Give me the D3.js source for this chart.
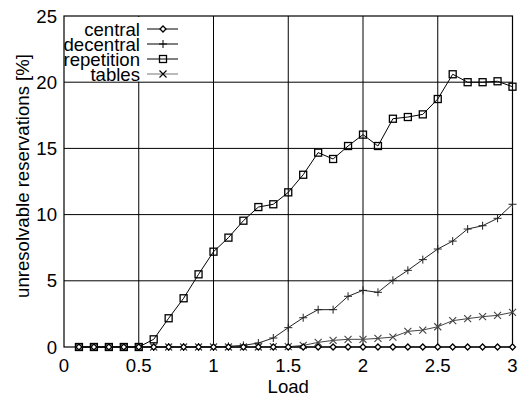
<!DOCTYPE html>
<html>
<head>
<meta charset="utf-8">
<script src="https://cdn.jsdelivr.net/npm/d3@7"></script>
<style>
  body { margin: 0; background: #fff; }
  text { font-family: "Liberation Sans", Arial, sans-serif; }
</style>
</head>
<body>
<div id="chart"></div>
<script>
// load values 0.1 .. 3.0
var loads = [0.1,0.2,0.3,0.4,0.5,0.6,0.7,0.8,0.9,1.0,1.1,1.2,1.3,1.4,1.5,1.6,1.7,1.8,1.9,2.0,2.1,2.2,2.3,2.4,2.5,2.6,2.7,2.8,2.9,3.0];

var central = [0,0,0,0,0,0,0,0,0,0,0,0,0,0,0,0,0,0,0,0,0,0,0,0,0,0,0,0,0,0];
var decentral = [0,0,0,0,0,0,0,0,0,0,0.05,0.12,0.3,0.68,1.46,2.21,2.82,2.82,3.83,4.28,4.13,5.04,5.79,6.6,7.4,8.0,8.91,9.16,9.72,10.78];
var repetition = [0,0,0,0,0,0.58,2.17,3.68,5.49,7.2,8.26,9.54,10.57,10.78,11.68,13.01,14.68,14.2,15.18,16.04,15.18,17.24,17.37,17.57,18.73,20.6,20.0,20.0,20.07,19.66];
var tables = [0,0,0,0,0,0,0,0,0,0,0,0,0,0.02,0.02,0.12,0.35,0.5,0.58,0.58,0.65,0.75,1.18,1.28,1.53,1.99,2.14,2.29,2.39,2.62];

var seriesNames = ["central", "decentral", "repetition", "tables"];
var seriesColors = ["#000", "#222", "#000", "#444"];
var xTicks = [0, 0.5, 1, 1.5, 2, 2.5, 3];
var xTickLabels = ["0", "0.5", "1", "1.5", "2", "2.5", "3"];
var yTicks = [0, 5, 10, 15, 20, 25];

var width = 523, height = 397;
var fs = "18.6px";

var svg = d3.select("#chart").append("svg")
    .attr("width", width)
    .attr("height", height);

var x = d3.scaleLinear().domain([0, 3]).range([64, 512.5]);
var y = d3.scaleLinear().domain([0, 25]).range([347, 16]);

// vertical grid
svg.selectAll(".vgrid")
    .data(xTicks.slice(1, -1))
    .enter()
    .append("line")
    .attr("x1", d => x(d)).attr("x2", d => x(d))
    .attr("y1", y(0)).attr("y2", y(25))
    .attr("stroke", "#000")
    .attr("stroke-width", 1);

// legend backdrop hides grid behind key
svg.append("rect")
    .attr("x", x(0) + 1).attr("y", y(25) + 1)
    .attr("width", 118).attr("height", y(20) - y(25) - 1.5)
    .attr("fill", "#fff");

// horizontal grid
svg.selectAll(".hgrid")
    .data(yTicks.slice(1, -1))
    .enter()
    .append("line")
    .attr("x1", x(0)).attr("x2", x(3))
    .attr("y1", d => y(d)).attr("y2", d => y(d))
    .attr("stroke", "#000")
    .attr("stroke-width", 1);

// frame
svg.append("rect")
    .attr("x", x(0)).attr("y", y(25))
    .attr("width", x(3) - x(0)).attr("height", y(0) - y(25))
    .attr("fill", "none")
    .attr("stroke", "#000")
    .attr("stroke-width", 1.2);

// tick labels
svg.selectAll(".xlab")
    .data(xTicks)
    .enter()
    .append("text")
    .attr("x", d => x(d))
    .attr("y", 372)
    .attr("text-anchor", "middle")
    .style("font-size", fs)
    .text((d, i) => xTickLabels[i]);

svg.selectAll(".ylab")
    .data(yTicks)
    .enter()
    .append("text")
    .attr("x", 57)
    .attr("y", d => y(d) + 6.5)
    .attr("text-anchor", "end")
    .style("font-size", fs)
    .text(d => d);

svg.append("text")
    .attr("x", x(1.5))
    .attr("y", 393)
    .attr("text-anchor", "middle")
    .style("font-size", fs)
    .text("Load");

svg.append("text")
    .attr("transform", "translate(29,176) rotate(-90)")
    .attr("text-anchor", "middle")
    .style("font-size", fs)
    .text("unresolvable reservations [%]");

// markers
function drawMarker(g, type, cx, cy, color) {
    if (type === "central") {
        g.append("path")
            .attr("d", `M${cx},${cy-3}L${cx+3},${cy}L${cx},${cy+3}L${cx-3},${cy}Z`)
            .attr("fill", "#fff").attr("stroke", color).attr("stroke-width", 1.3);
    } else if (type === "decentral") {
        g.append("path")
            .attr("d", `M${cx-4},${cy}H${cx+4}M${cx},${cy-4}V${cy+4}`)
            .attr("stroke", color).attr("stroke-width", 1);
    } else if (type === "repetition") {
        g.append("rect")
            .attr("x", cx - 3.5).attr("y", cy - 3.5)
            .attr("width", 7).attr("height", 7)
            .attr("fill", "none").attr("stroke", color).attr("stroke-width", 1.3);
    } else {
        g.append("path")
            .attr("d", `M${cx-3.5},${cy-3.5}L${cx+3.5},${cy+3.5}M${cx-3.5},${cy+3.5}L${cx+3.5},${cy-3.5}`)
            .attr("stroke", color).attr("stroke-width", 1.1);
    }
}

var allSeries = [central, decentral, repetition, tables];
var lineGen = d3.line().x(d => x(d[0])).y(d => y(d[1]));

// draw in reverse so central sits on top
[3, 2, 1, 0].forEach(function(k) {
    var pts = loads.map((l, i) => [l, allSeries[k][i]]);
    var g = svg.append("g");
    g.append("path")
        .attr("d", lineGen(pts))
        .attr("fill", "none")
        .attr("stroke", seriesColors[k])
        .attr("stroke-width", 1);
    pts.forEach(p => drawMarker(g, seriesNames[k], x(p[0]), y(p[1]), seriesColors[k]));
});

// legend
var legendY = [29, 44, 59, 74];
seriesNames.forEach(function(name, i) {
    var ly = legendY[i];
    svg.append("text")
        .attr("x", 140)
        .attr("y", ly + 6.5)
        .attr("text-anchor", "end")
        .style("font-size", fs)
        .text(name);
    var g = svg.append("g");
    g.append("line")
        .attr("x1", 147).attr("x2", 178)
        .attr("y1", ly).attr("y2", ly)
        .attr("stroke", i === 3 ? "#777" : "#000").attr("stroke-width", 1);
    drawMarker(g, name, 163, ly, "#000");
});
</script>
</body>
</html>
